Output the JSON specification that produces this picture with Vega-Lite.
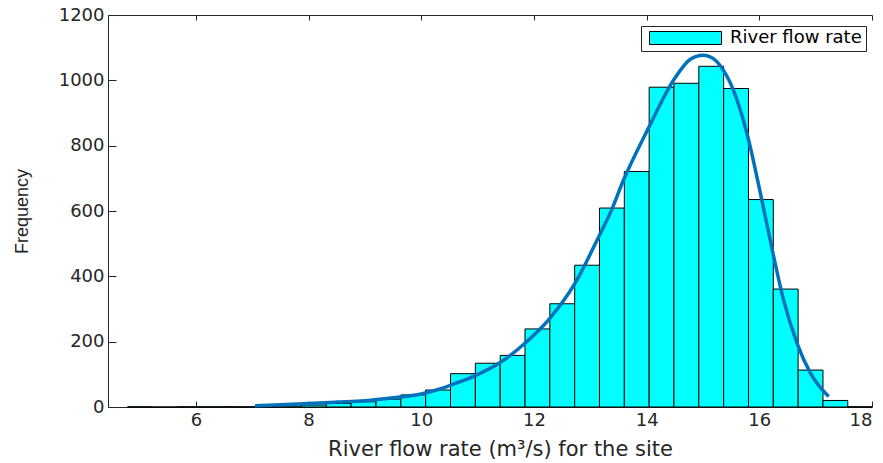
{
  "$schema": "https://vega.github.io/schema/vega-lite/v6.json",
  "width": 764,
  "height": 392,
  "autosize": {"type": "none"},
  "padding": {"left": 108, "top": 15, "right": 11, "bottom": 56},
  "background": "white",
  "config": {
    "view": {"stroke": null},
    "axis": {"grid": false, "domainColor": "#262626", "tickColor": "#262626", "labelColor": "#262626", "titleColor": "#262626", "labelFont": "DejaVu Sans", "titleFont": "DejaVu Sans", "domainWidth": 1, "tickWidth": 1, "labelFontSize": 18, "titleFontWeight": "normal"},
    "axisLeft": {"titleFont": "Liberation Sans", "titleFontSize": 18, "titlePadding": 27, "tickSize": -8, "labelPadding": 12, "format": "d"}
  },
  "datasets": {
    "bins": [
      {"start": 4.790, "end": 5.231, "count": 1},
      {"start": 5.231, "end": 5.671, "count": 0},
      {"start": 5.671, "end": 6.112, "count": 1},
      {"start": 6.112, "end": 6.553, "count": 1},
      {"start": 6.553, "end": 6.994, "count": 1},
      {"start": 6.994, "end": 7.434, "count": 1},
      {"start": 7.434, "end": 7.875, "count": 3},
      {"start": 7.875, "end": 8.316, "count": 6},
      {"start": 8.316, "end": 8.756, "count": 11},
      {"start": 8.756, "end": 9.197, "count": 16},
      {"start": 9.197, "end": 9.638, "count": 24},
      {"start": 9.638, "end": 10.078, "count": 37},
      {"start": 10.078, "end": 10.519, "count": 52},
      {"start": 10.519, "end": 10.960, "count": 102},
      {"start": 10.960, "end": 11.401, "count": 134},
      {"start": 11.401, "end": 11.841, "count": 158},
      {"start": 11.841, "end": 12.282, "count": 239},
      {"start": 12.282, "end": 12.723, "count": 316},
      {"start": 12.723, "end": 13.163, "count": 434},
      {"start": 13.163, "end": 13.604, "count": 609},
      {"start": 13.604, "end": 14.045, "count": 721},
      {"start": 14.045, "end": 14.485, "count": 979},
      {"start": 14.485, "end": 14.926, "count": 991},
      {"start": 14.926, "end": 15.367, "count": 1043},
      {"start": 15.367, "end": 15.808, "count": 975},
      {"start": 15.808, "end": 16.248, "count": 635},
      {"start": 16.248, "end": 16.689, "count": 361},
      {"start": 16.689, "end": 17.130, "count": 113},
      {"start": 17.130, "end": 17.570, "count": 20},
      {"start": 17.570, "end": 18.000, "count": 1}
    ],
    "fit": [
      {"x": 7.05, "y": 4}, {"x": 7.5, "y": 7}, {"x": 8.0, "y": 11}, {"x": 8.5, "y": 15},
      {"x": 9.0, "y": 19}, {"x": 9.5, "y": 28}, {"x": 10.0, "y": 40}, {"x": 10.33, "y": 55},
      {"x": 10.57, "y": 70}, {"x": 10.96, "y": 96}, {"x": 11.4, "y": 136}, {"x": 11.84, "y": 195},
      {"x": 12.29, "y": 273}, {"x": 12.73, "y": 379}, {"x": 13.18, "y": 532}, {"x": 13.35, "y": 592},
      {"x": 13.59, "y": 695}, {"x": 14.03, "y": 853}, {"x": 14.48, "y": 1001}, {"x": 14.77, "y": 1064},
      {"x": 15.0, "y": 1077}, {"x": 15.15, "y": 1070}, {"x": 15.31, "y": 1044}, {"x": 15.54, "y": 970},
      {"x": 15.78, "y": 838}, {"x": 16.02, "y": 654}, {"x": 16.23, "y": 481}, {"x": 16.43, "y": 328},
      {"x": 16.67, "y": 195}, {"x": 16.91, "y": 103}, {"x": 17.23, "y": 32}
    ]
  },
  "layer": [
    {
      "data": {"name": "bins"},
      "mark": {"type": "rect", "stroke": "#000000", "strokeWidth": 1},
      "encoding": {
        "x": {"field": "start", "type": "quantitative",
          "scale": {"domain": [4.44, 18], "nice": false, "zero": false},
          "axis": {"orient": "bottom", "values": [6, 8, 10, 12, 14, 16, 18], "tickSize": -6, "labelPadding": 10,
            "title": "River flow rate (m³/s) for the site", "titleFontSize": 21, "titlePadding": 9, "titleX": 392}},
        "x2": {"field": "end"},
        "y": {"field": "count", "type": "quantitative",
          "scale": {"domain": [0, 1200], "nice": false},
          "axis": {"values": [0, 200, 400, 600, 800, 1000, 1200], "format": "d", "title": "Frequency"}},
        "y2": {"datum": 0},
        "color": {"datum": "River flow rate", "type": "nominal", "scale": {"range": ["#00FFFF"]},
          "legend": {"title": null, "orient": "none", "legendX": 533, "legendY": 11,
            "symbolType": "M-1,-0.18H1V0.18H-1Z", "symbolSize": 5184, "clipHeight": 16,
            "symbolStrokeColor": "#000000", "symbolStrokeWidth": 1, "symbolOffset": 4,
            "labelFont": "DejaVu Sans", "labelFontSize": 18, "labelColor": "#000000", "labelOffset": 8, "labelLimit": 400,
            "padding": 4, "strokeColor": "#262626", "fillColor": "white"}}
      }
    },
    {
      "data": {"name": "fit"},
      "mark": {"type": "line", "color": "#0072BD", "strokeWidth": 3.5, "interpolate": "monotone"},
      "encoding": {
        "x": {"field": "x", "type": "quantitative",
          "axis": {"orient": "top", "values": [6, 8, 10, 12, 14, 16, 18], "tickSize": -5, "labels": false, "title": null}},
        "y": {"field": "y", "type": "quantitative", "axis": {"values": [0, 200, 400, 600, 800, 1000, 1200], "format": "d", "title": "Frequency"}}
      }
    }
  ],
  "resolve": {"axis": {"x": "independent"}}
}
